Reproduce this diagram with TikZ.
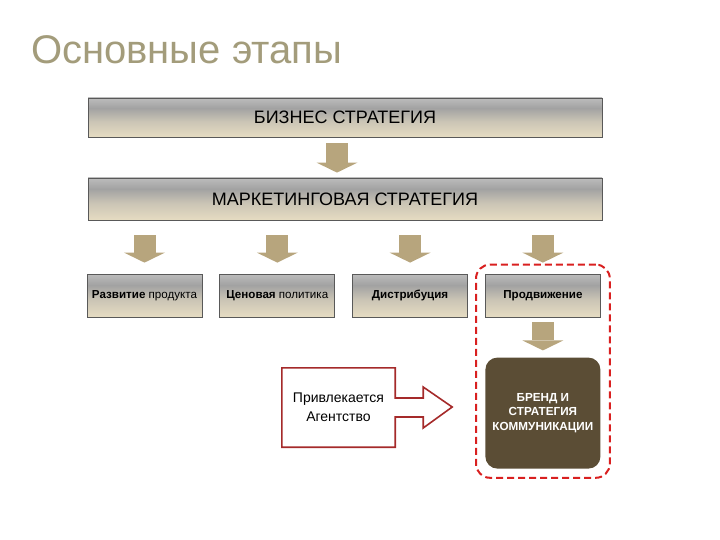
\documentclass[tikz,border=0pt]{standalone}
\usepackage{fontspec}
\setmainfont{Liberation Sans}
\usetikzlibrary{positioning,fit,arrows.meta}
\definecolor{titlecol}{HTML}{A39C7B}
\definecolor{tanarrow}{HTML}{B7A57D}
\definecolor{barlight}{HTML}{D6D6D6}
\definecolor{barmid}{HTML}{A2A2A2}
\definecolor{barcreme}{HTML}{E6DCC2}
\definecolor{barbot}{HTML}{BBA274}
\definecolor{brandcol}{HTML}{5B4D35}
\definecolor{agencyred}{HTML}{A52A2A}
\definecolor{dashred}{HTML}{D92020}
\pgfdeclareverticalshading{barshade}{100bp}{color(0bp)=(barbot); color(25bp)=(barcreme); color(45bp)=(barcreme!60!barmid);
    color(62bp)=(barmid); color(88bp)=(barlight); color(100bp)=(barlight!80!black)}

\begin{document}
\begin{tikzpicture}[x=1pt,y=-1pt,
    bar/.style={draw=black!65, line width=.8pt, shading=barshade, inner sep=0pt},
    stage/.style={bar, minimum width=115pt, minimum height=43pt, font=\fontsize{11.6}{13}\selectfont},
    downarrow/.style={line width=22pt, tanarrow, -{Triangle[width=41pt,length=10pt,line width=0pt]}}]
    \useasboundingbox (0,0) rectangle (720,540);
    \node[font=\fontsize{40}{44}\selectfont, text=titlecol, inner sep=0pt, anchor=base west] (title) at (31,64) {Основные этапы};

    \node[bar, minimum width=514pt, minimum height=39pt, font=\fontsize{18}{21}\selectfont] (biz) at (345,117.5) {БИЗНЕС СТРАТЕГИЯ};
    \node[bar, minimum width=514pt, minimum height=42pt, font=\fontsize{18}{21}\selectfont] (mkt) at (345,199) {МАРКЕТИНГОВАЯ СТРАТЕГИЯ};

    \node[stage] (dev) at (144.5,295.5) {\textbf{Развитие} продукта};
    \node[stage, right=17pt of dev] (price) {\textbf{Ценовая} политика};
    \node[stage, right=17pt of price] (dist) {\textbf{Дистрибуция}};
    \node[stage, right=17pt of dist] (prom) {\textbf{Продвижение}};

    \node[fill=brandcol, rounded corners=12pt, minimum width=115pt, minimum height=111pt, text=white, align=center,
          font=\bfseries\fontsize{11.7}{14.5}\selectfont, below=40pt of prom] (brand) {БРЕНД И\\СТРАТЕГИЯ\\КОММУНИКАЦИИ};
    \node[draw=dashred, line width=2pt, dash pattern=on 7pt off 4pt, rounded corners=14pt, inner sep=9pt, fit=(prom)(brand)] (promgroup) {};

    \node[minimum width=113pt, minimum height=79pt, align=center, font=\fontsize{14}{19}\selectfont] (agency) at (338.5,407.5) {Привлекается\\Агентство};
    \draw[agencyred, line width=1.6pt, line join=miter] (agency.north west) -- (agency.north east) -- ([yshift=9.5pt]agency.east)
        -- ++(28,0) -- ++(0,-11) -- ++(29,20) coordinate (agencytip) -- ++(-29,21) -- ++(0,-11)
        -- ([yshift=-9.5pt]agency.east) -- (agency.south east) -- (agency.south west) -- cycle;

    \draw[downarrow, shorten <=6pt, shorten >=5pt] ([xshift=-8pt]biz.south) -- ([xshift=-8pt]mkt.north);
    \foreach \s in {dev,price,dist,prom}
        \draw[downarrow, shorten <=15pt, shorten >=11pt] (mkt.south -| \s.north) -- (\s.north);
    \draw[downarrow, shorten <=5pt, shorten >=7pt] (prom) -- (brand);
\end{tikzpicture}
\end{document}
